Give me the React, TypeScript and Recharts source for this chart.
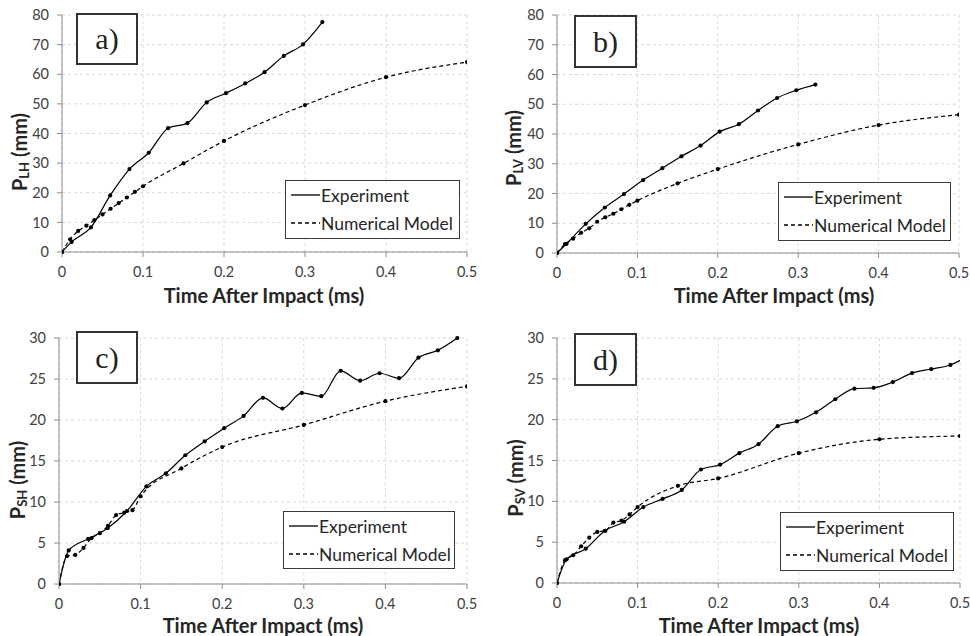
import React from "react";
import {
  LineChart,
  Line,
  XAxis,
  YAxis,
  CartesianGrid,
  Legend,
  Label,
} from "recharts";

// experiment frames (~42 kfps) and model output times, in ms
const expTimes = [
  0, 0.0119, 0.0357, 0.0595, 0.0833, 0.1071, 0.131, 0.1548, 0.1786, 0.2024,
  0.2262, 0.25, 0.2738, 0.2976, 0.3214, 0.3452, 0.369, 0.3929, 0.4167, 0.4405,
  0.4643, 0.4881, 0.5119,
];
const modelTimes = [
  0, 0.01, 0.02, 0.03, 0.04, 0.05, 0.06, 0.07, 0.08, 0.09, 0.1, 0.15, 0.2, 0.3,
  0.4, 0.5,
];

const expLH = [0, 3.4, 8.3, 19.1, 28.0, 33.5, 41.8, 43.5, 50.5, 53.6, 56.9, 60.7, 66.2, 70.1, 77.6];
const modelLH = [0, 4.3, 7.1, 8.9, 10.8, 12.7, 14.6, 16.5, 18.4, 20.3, 22.2, 29.9, 37.5, 49.6, 59.0, 64.1];

const expLV = [0, 3.1, 9.8, 15.3, 19.8, 24.5, 28.5, 32.5, 36.1, 40.8, 43.3, 47.9, 52.1, 54.7, 56.6];
const modelLV = [0, 3.0, 4.8, 6.8, 8.3, 10.5, 12.0, 13.2, 14.7, 16.2, 17.6, 23.4, 28.2, 36.5, 43.0, 46.5];

const expSH = [
  0, 4.1, 5.5, 6.8, 8.9, 11.9, 13.5, 15.7, 17.4, 19.0, 20.5, 22.7, 21.4, 23.3,
  22.9, 26.0, 24.8, 25.7, 25.1, 27.6, 28.5, 30.0,
];
const modelSH = [0, 3.4, 3.55, 4.4, 5.6, 6.2, 7.1, 8.4, 8.7, 9.0, 10.7, 14.1, 16.7, 19.4, 22.3, 24.1];

const expSV = [
  0, 2.9, 4.2, 6.4, 7.5, 9.3, 10.3, 11.4, 13.9, 14.5, 15.9, 17.0, 19.2, 19.8,
  20.9, 22.5, 23.8, 23.9, 24.6, 25.7, 26.2, 26.7, 27.9,
];
const modelSV = [0, 2.8, 3.4, 4.5, 5.55, 6.25, 6.4, 7.4, 7.65, 8.4, 9.3, 11.9, 12.8, 15.9, 17.6, 18.0];

const xTicks = [0, 0.1, 0.2, 0.3, 0.4, 0.5];
const yTicksL = [0, 10, 20, 30, 40, 50, 60, 70, 80];
const yTicksS = [0, 5, 10, 15, 20, 25, 30];

const toPoints = (times: number[], vals: number[]) =>
  vals.map((v, i) => ({ t: times[i], p: v }));

const FONT = "Lato, 'Open Sans', sans-serif";
const AXIS = "#8c8c8c";
const TXT = "#404040";
const DASH: Record<string, string | undefined> = {
  Experiment: undefined,
  "Numerical Model": "4 3",
};

interface PanelProps {
  left: number;
  top: number;
  width: number;
  height: number;
  plot: { x0: number; x1: number; y0: number; y1: number }; // in panel coords
  exp: number[];
  model: number[];
  yMax: number;
  yTicks: number[];
  sub: string;
  tag: string;
  tagBox: { x: number; y: number; w: number; h: number };
  legendBox: { x: number; y: number; w: number; h: number };
  xTitle: { x: number; y: number };
  yTitle: { x: number; y: number };
}

function LegendBox({ payload, box }: any) {
  return (
    <div
      style={{
        width: box.w,
        height: box.h,
        boxSizing: "border-box",
        border: "1.5px solid #3a3a3a",
        background: "#fff",
        fontFamily: FONT,
        fontSize: 17.5,
        color: "#262626",
        whiteSpace: "nowrap",
      }}
    >
      {(payload || []).map((e: any) => (
        <div
          key={e.value}
          style={{ display: "flex", alignItems: "center", height: 28 }}
        >
          <svg width={32} height={10} style={{ marginLeft: 3, flexShrink: 0 }}>
            <line
              x1={2}
              x2={31}
              y1={5}
              y2={5}
              stroke="#000"
              strokeWidth={1.3}
              strokeDasharray={DASH[e.value]}
            />
          </svg>
          <span>{e.value}</span>
        </div>
      ))}
    </div>
  );
}

function Panel(props: PanelProps) {
  const { plot } = props;
  const expData = toPoints(expTimes, props.exp);
  const modelData = toPoints(modelTimes, props.model);
  const dot = { r: 2.1, fill: "#000", stroke: "none" };

  return (
    <div
      style={{
        position: "absolute",
        left: props.left,
        top: props.top,
        width: props.width,
        height: props.height,
      }}
    >
      <LineChart
        width={props.width}
        height={props.height}
        margin={{
          top: plot.y0,
          right: props.width - plot.x1,
          left: 0,
          bottom: 0,
        }}
      >
        <CartesianGrid strokeDasharray="3 3" stroke="#d9d9d9" />
        <XAxis
          type="number"
          dataKey="t"
          domain={[0, 0.5]}
          ticks={xTicks}
          allowDataOverflow
          height={props.height - plot.y1}
          stroke={AXIS}
          tickSize={5}
          tickMargin={10}
          tick={{ fill: TXT, fontSize: 14.5, fontFamily: FONT }}
        >
          <Label
            content={() => (
              <text
                x={props.xTitle.x}
                y={props.xTitle.y}
                textAnchor="middle"
                dominantBaseline="central"
                fontFamily={FONT}
                fontWeight="bold"
                fontSize={20}
                fill="#262626"
              >
                Time After Impact (ms)
              </text>
            )}
          />
        </XAxis>
        <YAxis
          type="number"
          domain={[0, props.yMax]}
          ticks={props.yTicks}
          width={plot.x0}
          stroke={AXIS}
          tickSize={5}
          tickMargin={8}
          tick={{ fill: TXT, fontSize: 14.5, fontFamily: FONT }}
        >
          <Label
            content={() => (
              <text
                x={props.yTitle.x}
                y={props.yTitle.y}
                transform={`rotate(-90 ${props.yTitle.x} ${props.yTitle.y})`}
                textAnchor="middle"
                dominantBaseline="central"
                fontFamily={FONT}
                fontWeight="bold"
                fontSize={20}
                fill="#262626"
              >
                P
                <tspan fontSize={13} dy={5}>
                  {props.sub}
                </tspan>
                <tspan dy={-5}> (mm)</tspan>
              </text>
            )}
          />
        </YAxis>
        <Legend
          layout="horizontal"
          verticalAlign="middle"
          align="center"
          wrapperStyle={{
            position: "absolute",
            left: props.legendBox.x,
            top: props.legendBox.y,
            width: props.legendBox.w,
            height: props.legendBox.h,
          }}
          content={(p: any) => <LegendBox payload={p.payload} box={props.legendBox} />}
        />
        <Line
          data={expData}
          dataKey="p"
          name="Experiment"
          type="monotone"
          stroke="#000"
          strokeWidth={1.2}
          dot={dot}
          activeDot={false}
          isAnimationActive={false}
        />
        <Line
          data={modelData}
          dataKey="p"
          name="Numerical Model"
          type="monotone"
          stroke="#000"
          strokeWidth={1.2}
          strokeDasharray="4 3"
          dot={dot}
          activeDot={false}
          isAnimationActive={false}
        />
      </LineChart>
      <div
        style={{
          position: "absolute",
          left: props.tagBox.x,
          top: props.tagBox.y,
          width: props.tagBox.w,
          height: props.tagBox.h,
          boxSizing: "border-box",
          border: "2px solid #333",
          background: "#fff",
          display: "flex",
          alignItems: "center",
          justifyContent: "center",
          fontFamily: "'Liberation Serif', serif",
          fontSize: 30,
          color: "#222",
        }}
      >
        {props.tag}
      </div>
    </div>
  );
}

export default function App() {
  return (
    <div
      style={{
        position: "absolute",
        left: 0,
        top: 0,
        width: 970,
        height: 636,
        background: "#fff",
      }}
    >
      <Panel
        left={0}
        top={0}
        width={485}
        height={310}
        plot={{ x0: 62, x1: 467, y0: 15, y1: 252 }}
        exp={expLH}
        model={modelLH}
        yMax={80}
        yTicks={yTicksL}
        sub="LH"
        tag="a)"
        tagBox={{ x: 76, y: 13, w: 62, h: 52 }}
        legendBox={{ x: 285, y: 180, w: 175, h: 59 }}
        xTitle={{ x: 264, y: 295 }}
        yTitle={{ x: 19, y: 152 }}
      />
      <Panel
        left={485}
        top={0}
        width={485}
        height={310}
        plot={{ x0: 72, x1: 474, y0: 15, y1: 253 }}
        exp={expLV}
        model={modelLV}
        yMax={80}
        yTicks={yTicksL}
        sub="LV"
        tag="b)"
        tagBox={{ x: 89, y: 15, w: 63, h: 53 }}
        legendBox={{ x: 293, y: 182, w: 173, h: 59 }}
        xTitle={{ x: 289, y: 295 }}
        yTitle={{ x: 28, y: 148 }}
      />
      <Panel
        left={0}
        top={310}
        width={485}
        height={326}
        plot={{ x0: 59, x1: 467, y0: 28, y1: 274 }}
        exp={expSH}
        model={modelSH}
        yMax={30}
        yTicks={yTicksS}
        sub="SH"
        tag="c)"
        tagBox={{ x: 76, y: 21, w: 62, h: 53 }}
        legendBox={{ x: 283, y: 201, w: 172, h: 58 }}
        xTitle={{ x: 263, y: 315 }}
        yTitle={{ x: 17, y: 170 }}
      />
      <Panel
        left={485}
        top={310}
        width={485}
        height={326}
        plot={{ x0: 72, x1: 475, y0: 28, y1: 273 }}
        exp={expSV}
        model={modelSV}
        yMax={30}
        yTicks={yTicksS}
        sub="SV"
        tag="d)"
        tagBox={{ x: 89, y: 23, w: 63, h: 53 }}
        legendBox={{ x: 295, y: 202, w: 174, h: 59 }}
        xTitle={{ x: 274, y: 315 }}
        yTitle={{ x: 30, y: 168 }}
      />
    </div>
  );
}
